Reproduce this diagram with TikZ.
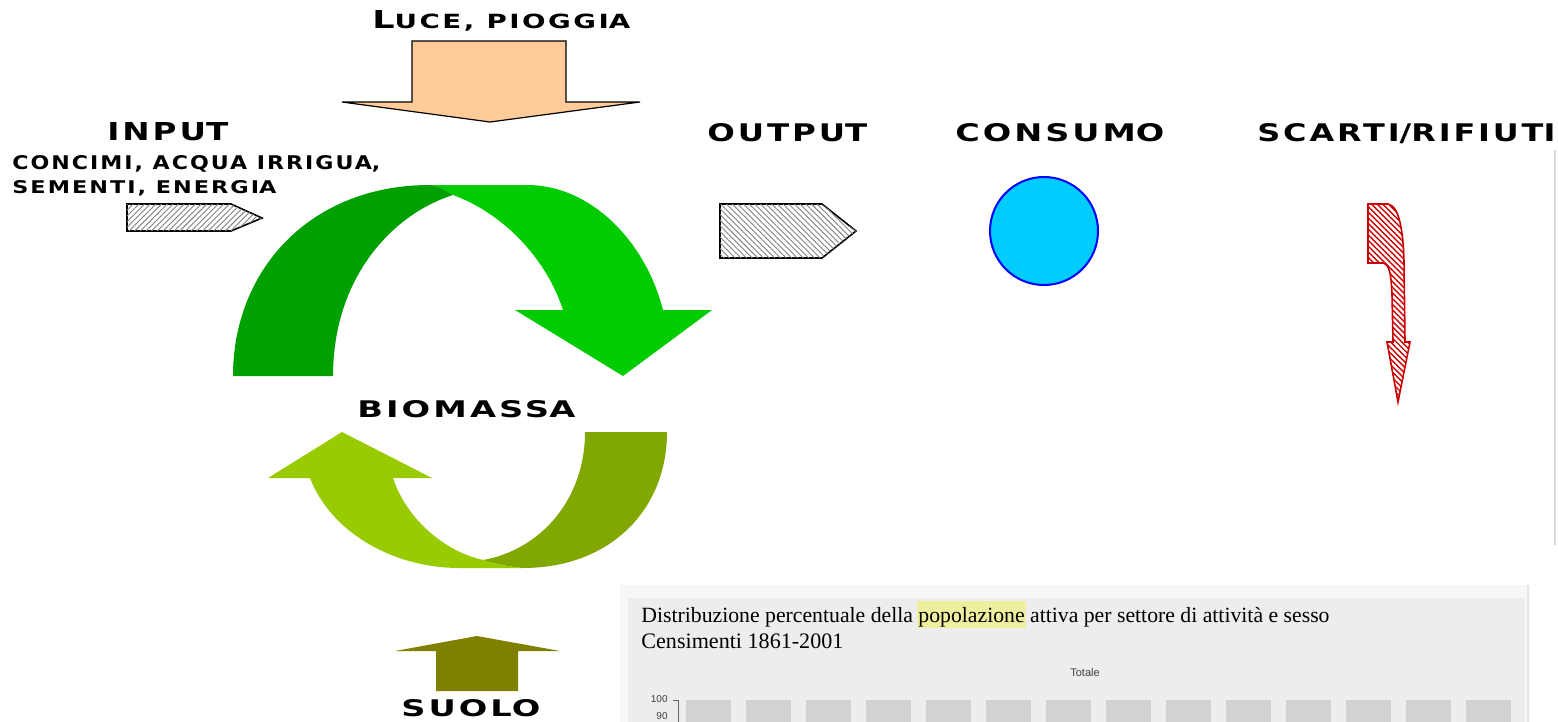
\documentclass[tikz,border=0pt]{standalone}
\usepackage{fontspec}
\usepackage{graphicx}
\setmainfont{DejaVu Sans}
\newfontfamily\serifT{Liberation Serif}
\newfontfamily\sansT{Liberation Sans}
\usetikzlibrary{patterns.meta}
\newlength\fitw
\newlength\fith
\newcommand{\fitbox}[3]{\setlength\fitw{#1pt}\setlength\fith{#2pt}\resizebox{0.5\fitw}{0.5\fith}{#3}}
\newcommand{\spc}[2]{{\addfontfeature{LetterSpace=9}#1}#2}
\definecolor{peach}{HTML}{FFCC99}
\definecolor{gdark}{HTML}{00A000}
\definecolor{gbright}{HTML}{00CC00}
\definecolor{glight}{HTML}{99CC00}
\definecolor{golive}{HTML}{80A800}
\definecolor{soil}{HTML}{808000}
\definecolor{cyanc}{HTML}{00CCFF}
\definecolor{hil}{HTML}{EEF0A0}
\definecolor{panel}{HTML}{EDEDED}
\definecolor{panelb}{HTML}{F7F7F7}
\definecolor{bar}{HTML}{D2D2D2}
\definecolor{redc}{HTML}{CC0000}
\tikzset{
  lbl/.style={inner sep=0pt, anchor=north west, font=\bfseries},
  hatchbox/.style={draw=black, line width=0.8pt, fill=white,
    postaction={pattern={Lines[angle=#1,distance=2pt,line width=0.45pt]}, pattern color=gray}},
  barbox/.style={fill=bar, draw=none},
}
\begin{document}
\begin{tikzpicture}[x=0.5pt,y=-0.5pt]
\useasboundingbox (0,0) rectangle (1558,722);
\clip (0,0) rectangle (1558,722);
\fill[white] (0,0) rectangle (1558,722);

% --- texts
\node[lbl] (luce) at (372,10) {\fitbox{258}{18}{\spc{{\fontsize{12}{12}\selectfont L}{\fontsize{9.5}{10}\selectfont UCE, PIOGGI}}{\fontsize{9.5}{10}\selectfont A}}};
\node[lbl] (input) at (107,122) {\fitbox{121}{18}{\spc{INPU}{T}}};
\node[lbl] (concimi) at (12,155) {\fitbox{368}{14}{\spc{CONCIMI, ACQUA IRRIGUA}{,}}};
\node[lbl] (sementi) at (12,180) {\fitbox{264}{13}{\spc{SEMENTI, ENERGI}{A}}};
\node[lbl] (output) at (707,123) {\fitbox{160}{18}{\spc{OUTPU}{T}}};
\node[lbl] (consumo) at (955,123) {\fitbox{209}{18}{\spc{CONSUM}{O}}};
\node[lbl] (scarti) at (1257,123) {\fitbox{298}{18}{\spc{SCARTI\smash{/}RIFIUT}{I}}};
\node[lbl] (biomassa) at (357,400) {\fitbox{218}{17}{\spc{BIOMASS}{A}}};
\node[lbl] (suolo) at (401,699) {\fitbox{139}{17}{\spc{SUOL}{O}}};

% --- light/rain arrow
\draw[line width=0.6pt, fill=peach] (412,41) -- (566,41) -- (566,102) -- (640,102)
  -- (490,122) -- (342,102) -- (412,102) -- cycle;

% --- input arrow
\draw[hatchbox=45] (127,204) -- (231,204) -- (262,218) -- (231,231) -- (127,231) -- cycle;
% --- output arrow
\draw[hatchbox=-45] (720,204) -- (822,204) -- (856,231) -- (822,258) -- (720,258) -- cycle;

% --- consumo circle
\node[circle, draw=blue, fill=cyanc, line width=1pt, minimum size=54pt, inner sep=0pt] (cons) at (1044,231) {};

% --- waste arrow
\draw[draw=redc, line width=0.8pt, fill=white,
  postaction={pattern={Lines[angle=-45,distance=2pt,line width=0.7pt]}, pattern color=redc}]
  (1368,204) -- (1388,204) .. controls (1398,206) and (1403,225) .. (1404,262)
  -- (1405,342) -- (1410,342) -- (1398,402) -- (1387,342) -- (1393,342)
  -- (1392,295) .. controls (1391,275) and (1390,265) .. (1383,263) -- (1368,263) -- cycle;

% --- top green cycle arrow
\fill[gbright] (430,185) -- (527,185) .. controls (590,185) and (645,240) .. (663,310)
  -- (712,310) -- (623,376) -- (515,310) -- (563,310)
  .. controls (545,255) and (500,212) .. (453,195)
  .. controls (445,190) and (438,186) .. (430,185) -- cycle;
\fill[gdark] (233,376) .. controls (233,270) and (310,185) .. (430,185)
  .. controls (438,186) and (445,190) .. (453,195)
  .. controls (390,215) and (333,280) .. (333,376) -- cycle;

% --- bottom green cycle arrow
\fill[golive] (585,432) -- (667,432) .. controls (667,510) and (610,568) .. (523,568)
  .. controls (510,567) and (495,564) .. (483,560)
  .. controls (540,550) and (585,500) .. (585,432) -- cycle;
\fill[glight] (523,568) -- (460,568) .. controls (390,568) and (330,530) .. (310,478)
  -- (268,478) -- (342,432) -- (432,478) -- (393,478)
  .. controls (405,515) and (440,550) .. (483,560)
  .. controls (495,564) and (510,567) .. (523,568) -- cycle;

% --- soil arrow
\fill[soil] (436,691) -- (518,691) -- (518,651) -- (560,651) -- (477,636)
  -- (395,651) -- (436,651) -- cycle;

% --- screenshot panel
\fill[panelb] (620,585) rectangle (1530,722);
\fill[panel] (628,598) rectangle (1525,722);
\fill[hil] (917,601) rectangle (1026,628);
\node[inner sep=0pt, anchor=base west] (title) at (641,622)
  {\resizebox{344pt}{!}{\serifT Distribuzione percentuale della popolazione attiva per settore di attività e sesso}};
\node[inner sep=0pt, anchor=base west] (cens) at (641,648)
  {\resizebox{101pt}{!}{\serifT Censimenti 1861-2001}};
\node[inner sep=0pt, font=\sansT\fontsize{5.5}{6}\selectfont, text=black!75] (tot) at (1085,673) {Totale};
\node[inner sep=0pt, anchor=east, font=\sansT\fontsize{5}{6}\selectfont, text=black!75] (y100) at (668,699) {100};
\node[inner sep=0pt, anchor=east, font=\sansT\fontsize{5}{6}\selectfont, text=black!75] (y90) at (668,716) {90};
\coordinate (ax0) at (673,700);
\coordinate (ax1) at (678,700);
\coordinate (ax2) at (678,722);
\draw[black!60, line width=0.4pt] (ax0) -- (ax1) -- (ax2);
\foreach \i in {0,...,13} {
  \fill[bar] ({686+60*\i},700) rectangle ({731+60*\i},722);
}
% faint right border line
\draw[black!15, line width=0.6pt] (1555,150) -- (1555,545);
\draw[black!10, line width=0.6pt] (1528,585) -- (1528,722);
\end{tikzpicture}
\end{document}
